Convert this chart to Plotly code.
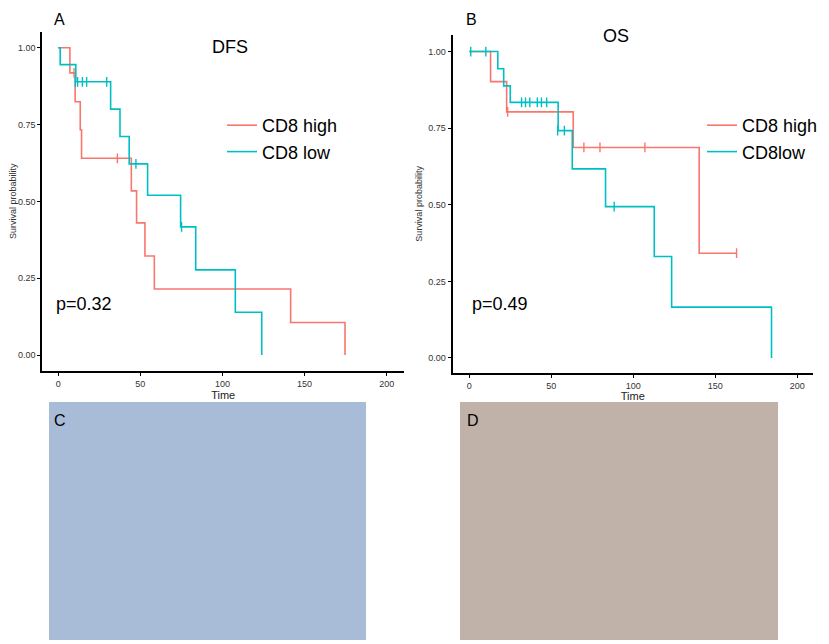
import plotly.graph_objects as go

# DFS, CD8 high
dfs_high_t = [0, 7.1, 10.3, 13.4, 14.2, 44.5, 47.7, 52.8, 58.5, 141.5, 174.6]
dfs_high_s = [1.0, 0.918, 0.824, 0.733, 0.640, 0.534, 0.430, 0.322, 0.215, 0.106, 0.0]
dfs_high_cens_t = [9.6, 36.0]
dfs_high_cens_s = [0.918, 0.640]

# DFS, CD8 low
dfs_low_t = [0, 1.2, 10.7, 31.9, 37.6, 43.2, 54.4, 74.5, 83.7, 107.8, 123.9]
dfs_low_s = [1.0, 0.945, 0.889, 0.800, 0.711, 0.622, 0.520, 0.417, 0.277, 0.139, 0.0]
dfs_low_cens_t = [10.4, 11.8, 14.7, 17.3, 29.5, 47.3, 75.1]
dfs_low_cens_s = [0.889, 0.889, 0.889, 0.889, 0.889, 0.622, 0.417]

# OS, CD8 high
os_high_t = [0, 13.0, 22.8, 63.4, 140.2, 163.0]
os_high_s = [1.0, 0.902, 0.803, 0.687, 0.342, 0.342]
os_high_cens_t = [23.4, 69.9, 79.7, 107.1, 163.0]
os_high_cens_s = [0.803, 0.687, 0.687, 0.687, 0.342]

# OS, CD8 low
os_low_t = [0, 17.4, 21.0, 25.0, 54.2, 62.8, 83.1, 112.8, 123.4, 184.3]
os_low_s = [1.0, 0.944, 0.888, 0.834, 0.742, 0.617, 0.494, 0.331, 0.166, 0.0]
os_low_cens_t = [0.9, 10.1, 31.9, 34.3, 36.9, 41.5, 44.0, 47.2, 53.9, 58.0, 88.4]
os_low_cens_s = [1.0, 1.0, 0.834, 0.834, 0.834, 0.834, 0.834, 0.834, 0.742, 0.742, 0.494]

y_ticks = [0, 0.25, 0.5, 0.75, 1.0]
x_ticks = [0, 50, 100, 150, 200]

RED = "#F8766D"
TEAL = "#00BFC4"
FONT = "Liberation Sans, Arial, sans-serif"

fig = go.Figure()


def add_curve(t, s, ct, cs, color, name, xa, ya, legend):
    fig.add_trace(go.Scatter(
        x=t, y=s, mode="lines", line=dict(color=color, width=1.6, shape="hv"),
        name=name, xaxis=xa, yaxis=ya, legend=legend, hoverinfo="skip"))
    fig.add_trace(go.Scatter(
        x=ct, y=cs, mode="markers", showlegend=False, xaxis=xa, yaxis=ya,
        marker=dict(symbol="line-ns", size=7, line=dict(color=color, width=1.4)),
        hoverinfo="skip"))


add_curve(dfs_high_t, dfs_high_s, dfs_high_cens_t, dfs_high_cens_s, RED, "CD8 high", "x", "y", "legend")
add_curve(dfs_low_t, dfs_low_s, dfs_low_cens_t, dfs_low_cens_s, TEAL, "CD8 low", "x", "y", "legend")
add_curve(os_high_t, os_high_s, os_high_cens_t, os_high_cens_s, RED, "CD8 high", "x2", "y2", "legend2")
add_curve(os_low_t, os_low_s, os_low_cens_t, os_low_cens_s, TEAL, "CD8low", "x2", "y2", "legend2")

# the page body has an 8px margin, so the figure is drawn 8px in from the corner
OFF = 8
W, H = 829 - OFF, 644 - OFF


def px(x):
    return (x - OFF) / W


def py(y):
    return 1 - (y - OFF) / H


axis_common = dict(showline=True, linecolor="black", linewidth=2, ticks="outside",
                   ticklen=3, tickcolor="black", showgrid=False, zeroline=False,
                   tickfont=dict(family=FONT, size=9, color="#333"))

fig.update_layout(
    width=W, height=H, margin=dict(l=0, r=0, t=0, b=0),
    paper_bgcolor="white", plot_bgcolor="white",
    font=dict(family=FONT, color="black"),
    xaxis=dict(domain=[px(42.3), px(404)], range=[-9.7, 210.5], tickvals=x_ticks,
               title=dict(text="Time", font=dict(size=11, color="#222"), standoff=0),
               anchor="y", **axis_common),
    yaxis=dict(domain=[py(371), py(31.7)], range=[-0.052, 1.052], tickvals=y_ticks,
               tickformat=".2f",
               title=dict(text="Survival probability", font=dict(size=9, color="#333"), standoff=4),
               anchor="x", **axis_common),
    xaxis2=dict(domain=[px(452.7), px(813)], range=[-10.1, 209.6], tickvals=x_ticks,
                title=dict(text="Time", font=dict(size=11, color="#222"), standoff=0),
                anchor="y2", **axis_common),
    yaxis2=dict(domain=[py(372.7), py(35)], range=[-0.048, 1.054], tickvals=y_ticks,
                tickformat=".2f",
                title=dict(text="Survival probability", font=dict(size=9, color="#333"), standoff=4),
                anchor="x2", **axis_common),
    legend=dict(x=px(222), y=py(107), xanchor="left", yanchor="top",
                font=dict(size=18, family=FONT), bgcolor="rgba(0,0,0,0)", tracegroupgap=0),
    legend2=dict(x=px(702), y=py(107), xanchor="left", yanchor="top",
                 font=dict(size=18, family=FONT), bgcolor="rgba(0,0,0,0)", tracegroupgap=0),
)

# histology panels (photographs in the original) as flat placeholders
fig.add_shape(type="rect", xref="paper", yref="paper",
              x0=px(49), x1=px(366), y0=py(640), y1=py(402),
              fillcolor="rgb(168,188,216)", line=dict(width=0), layer="below")
fig.add_shape(type="rect", xref="paper", yref="paper",
              x0=px(460), x1=px(778), y0=py(640), y1=py(402),
              fillcolor="rgb(192,178,168)", line=dict(width=0), layer="below")

texts = [
    ("A", 60, 20, 16), ("DFS", 230, 47, 18), ("p=0.32", 84, 304, 18),
    ("B", 472, 20, 16), ("OS", 616, 36, 18), ("p=0.49", 500, 304, 18),
    ("C", 60, 420, 16), ("D", 473, 420, 16),
]
for txt, x, y, size in texts:
    fig.add_annotation(text=txt, x=px(x), y=py(y), xref="paper", yref="paper",
                       showarrow=False, xanchor="center", yanchor="middle",
                       font=dict(size=size, family=FONT, color="black"))

fig.write_html("out.html")
